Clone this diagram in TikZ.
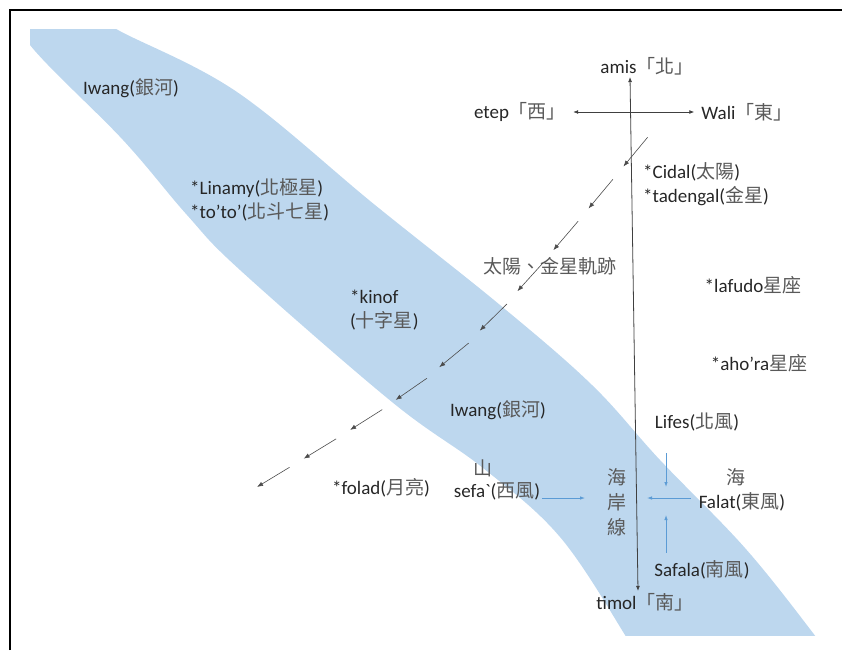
\documentclass[tikz,border=0pt]{standalone}
\usepackage{fontspec}
\setmainfont{Carlito}
\newfontfamily\cjk{Noto Sans CJK TC}
\usetikzlibrary{arrows.meta, decorations.markings}
\definecolor{milkyblue}{HTML}{BDD7EE}
\definecolor{windblue}{HTML}{5B9BD5}
\definecolor{txtdark}{HTML}{262626}
\definecolor{cjkgray}{HTML}{595959}
\newcommand{\zh}[1]{{\cjk\color{cjkgray}#1}}

\begin{document}
\begin{tikzpicture}[x=1pt, y=-1pt,
  every node/.style={font=\fontsize{19}{24}\selectfont, text=txtdark, inner sep=2pt},
  leftbox/.style={align=left, anchor=west},
  dirarrow/.style={draw=black!75, line width=0.8pt, {Latex[length=5pt,width=4pt]}-{Latex[length=5pt,width=4pt]}},
  wind/.style={draw=windblue, line width=0.8pt, -{Latex[length=5pt,width=3.5pt]}},
  sunpath/.style={decorate, decoration={markings, mark=between positions 0.07 and 1 step 0.1033 with
    {\draw[black!70, line width=0.6pt, -{Latex[length=6pt,width=4.5pt]}] (-38pt,0pt) -- (0pt,0pt);}}}]
\useasboundingbox (0,0) rectangle (842,650);
\draw[line width=1.6pt] (10,650) |- (842,10);

% milky way
\begin{scope}
\clip (30,30) rectangle (842,635);
\fill[milkyblue] plot[smooth, tension=0.6] coordinates {(70,-5) (95,12) (118,30) (237,92) (375,205) (500,305) (592,385) (660,460) (745,548) (813,633) (835,665)}
  -- plot[smooth, tension=0.6] coordinates {(640,665) (625,635) (560,537) (483,468) (392,402) (240,270) (187,215) (123,140) (30,45) (12,0)} -- cycle;
\end{scope}

\node (gal1) at (131,88) {Iwang(\zh{銀河})};
\node (amis) at (647,66) {amis\zh{「北」}};
\node (etep) at (520,112) {etep\zh{「西」}};
\node (wali) at (747,112) {Wali\zh{「東」}};
\node (timol) at (645,602) {timol\zh{「南」}};
\node[leftbox] (sun) at (641,184) {*Cidal(\zh{太陽})\\*tadengal(\zh{金星})};
\node[leftbox] (polar) at (188,200) {*Linamy(\zh{北極星})\\*to'to'(\zh{北斗七星})};
\node[leftbox] (kinof) at (348,310) {*kinof\\(\zh{十字星})};
\node (track) at (550,266) {\zh{太陽、金星軌跡}};
\node (lafudo) at (753,285) {*lafudo\zh{星座}};
\node (ahora) at (759,363) {*aho'ra\zh{星座}};
\node (gal2) at (498,410) {Iwang(\zh{銀河})};
\node (folad) at (381,488) {*folad(\zh{月亮})};
\node (mount) at (483,468) {\zh{山}};
\node (sefa) at (497,491) {sefa\textasciigrave(\zh{西風})};
\node[align=center, font=\fontsize{19}{25}\selectfont] (coast) at (617,502) {\zh{海}\\\zh{岸}\\\zh{線}};
\node (lifes) at (697,422) {Lifes(\zh{北風})};
\node (sea) at (736,477) {\zh{海}};
\node (falat) at (742,502) {Falat(\zh{東風})};
\node (safala) at (702,570) {Safala(\zh{南風})};

\draw[dirarrow] ([xshift=-17pt]amis.south) -- ([xshift=-7pt]timol.north);
\draw[dirarrow, shorten <=5pt, shorten >=5pt] (etep.east) -- (wali.west);

% sun and venus track
\coordinate (sunA) at (647,138);
\coordinate (sunC) at (460,364);
\coordinate (sunB) at (257,487);
\path[sunpath] (sunA) .. controls (sunC) .. (sunB);

% winds
\coordinate (meet) at (666,498);
\draw[wind] (sefa.east |- meet) -- ([xshift=-81pt]meet);
\draw[wind, shorten <=20pt] (lifes.south -| meet) -- ([yshift=11pt]meet);
\draw[wind, shorten <=6pt] (falat.west |- meet) -- ([xshift=-19pt]meet);
\draw[wind, shorten <=6pt] (safala.north -| meet) -- ([yshift=-17pt]meet);
\end{tikzpicture}
\end{document}
